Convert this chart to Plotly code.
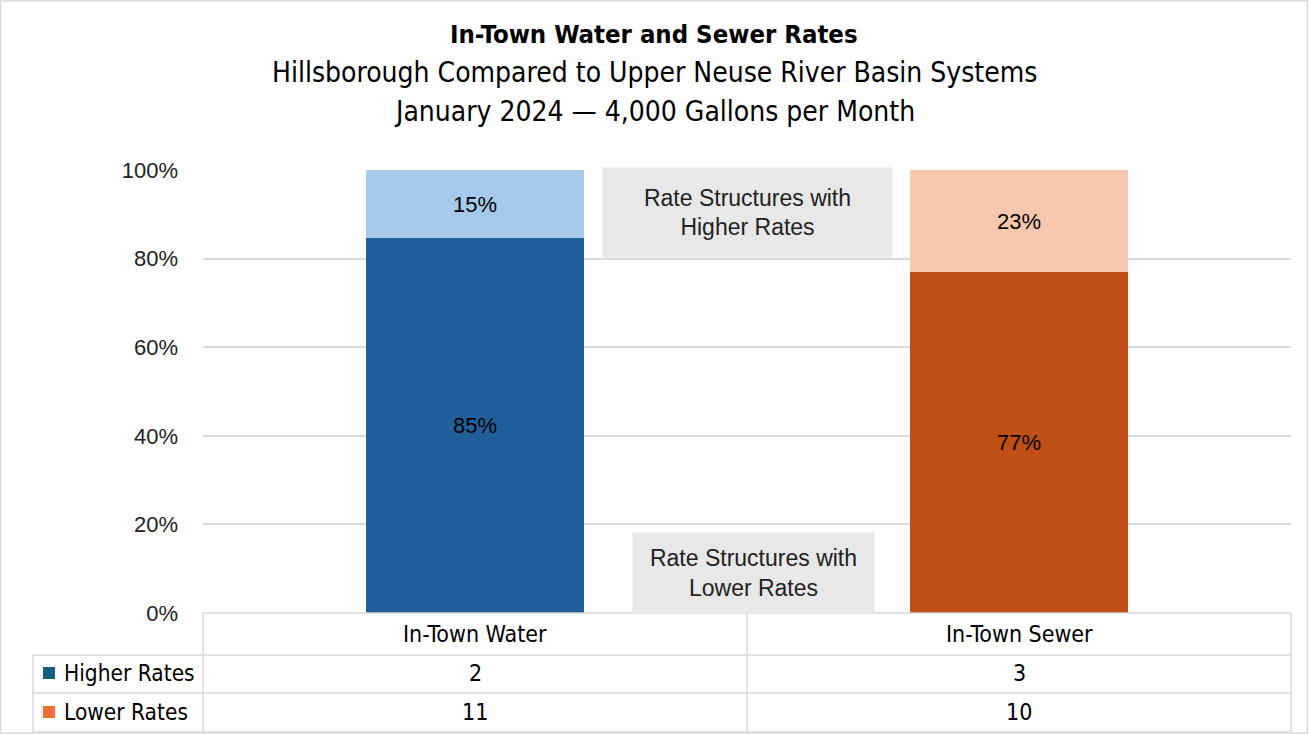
import plotly.graph_objects as go

categories = ["In-Town Water", "In-Town Sewer"]
lower_share = [0.846, 0.769]
higher_share = [0.154, 0.231]
lower_labels = ["85%", "77%"]
higher_labels = ["15%", "23%"]
higher_counts = [2, 3]
lower_counts = [11, 10]
y_ticks = [0, 0.2, 0.4, 0.6, 0.8, 1.0]
y_tick_labels = ["0%", "20%", "40%", "60%", "80%", "100%"]

W, H = 1309, 734
L, R, T, B = 203, 1291, 170, 613
NARROW = "Liberation Sans Narrow, Arial Narrow, DejaVu Sans Condensed, sans-serif"
ARIAL = "Liberation Sans, Arial, sans-serif"
GRID = "#D9D9D9"


def px(x):
    return (x - L) / (R - L)


def py(y):
    return (B - y) / (B - T)


fig = go.Figure()
fig.add_trace(go.Bar(
    x=categories, y=lower_share, name="Lower Rates",
    marker=dict(color=["#215F9A", "#C04F15"], line=dict(width=0)),
    text=lower_labels, textposition="inside", insidetextanchor="middle",
    textfont=dict(family=ARIAL, size=22, color="black"), width=0.4,
))
fig.add_trace(go.Bar(
    x=categories, y=higher_share, name="Higher Rates",
    marker=dict(color=["#A6CAEC", "#F6C6AD"], line=dict(width=0)),
    text=higher_labels, textposition="inside", insidetextanchor="middle",
    textfont=dict(family=ARIAL, size=22, color="black"), width=0.4,
))

shapes = []
annotations = []

# outer chart border
shapes.append(dict(type="rect", xref="paper", yref="paper", x0=px(0.5), x1=px(1307.5),
                   y0=py(733), y1=py(1), line=dict(color=GRID, width=1.5), layer="below"))

# titles
for text, yc, size in [("<b>In-Town Water and Sewer Rates</b>", 34, 25.5),
                       ("Hillsborough Compared to Upper Neuse River Basin Systems", 73, 28),
                       ("January 2024 \u2014 4,000 Gallons per Month", 111, 28)]:
    annotations.append(dict(text=text, xref="paper", yref="paper", x=px(654), y=py(yc),
                            xanchor="center", yanchor="middle", showarrow=False,
                            font=dict(family=NARROW, size=size, color="black")))

# gray callout boxes
annotations.append(dict(text="Rate Structures with<br>Higher Rates", xref="paper", yref="paper",
                        x=px(747.5), y=py(212.5), xanchor="center", yanchor="middle",
                        showarrow=False, width=289, height=89, bgcolor="#E8E8E8", borderpad=0,
                        font=dict(family=ARIAL, size=23, color="#222")))
annotations.append(dict(text="Rate Structures with<br>Lower Rates", xref="paper", yref="paper",
                        x=px(753.5), y=py(573), xanchor="center", yanchor="middle",
                        showarrow=False, width=241, height=80, bgcolor="#E8E8E8", borderpad=0,
                        font=dict(family=ARIAL, size=23, color="#222")))


# data table lines
def hline(x0, x1, y):
    shapes.append(dict(type="line", xref="paper", yref="paper", x0=px(x0), x1=px(x1),
                       y0=py(y), y1=py(y), line=dict(color=GRID, width=1.5)))


def vline(x, y0, y1):
    shapes.append(dict(type="line", xref="paper", yref="paper", x0=px(x), x1=px(x),
                       y0=py(y0), y1=py(y1), line=dict(color=GRID, width=1.5)))


hline(203, 1291, 613)
hline(33, 1291, 655)
hline(33, 1291, 693)
hline(33, 1291, 732)
vline(33, 655, 732)
vline(203, 613, 732)
vline(747, 613, 732)
vline(1291, 613, 732)

col_centers = [475, 1019]
for cat, cx in zip(categories, col_centers):
    annotations.append(dict(text=cat, xref="paper", yref="paper", x=px(cx), y=py(634),
                            xanchor="center", yanchor="middle", showarrow=False,
                            font=dict(family=NARROW, size=23, color="black")))
for vals, yc in [(higher_counts, 673), (lower_counts, 712)]:
    for v, cx in zip(vals, col_centers):
        annotations.append(dict(text=str(v), xref="paper", yref="paper", x=px(cx), y=py(yc),
                                xanchor="center", yanchor="middle", showarrow=False,
                                font=dict(family=NARROW, size=23, color="black")))

for name, color, yc in [("Higher Rates", "#156082", 673), ("Lower Rates", "#E97132", 712)]:
    shapes.append(dict(type="rect", xref="paper", yref="paper", x0=px(43), x1=px(55),
                       y0=py(yc + 6), y1=py(yc - 6), fillcolor=color, line=dict(width=0)))
    annotations.append(dict(text=name, xref="paper", yref="paper", x=px(62), y=py(yc),
                            xanchor="left", yanchor="middle", showarrow=False,
                            font=dict(family=NARROW, size=22.5, color="black")))

fig.update_layout(
    width=W, height=H, barmode="stack", showlegend=False,
    margin=dict(l=L, r=W - R, t=T, b=H - B),
    plot_bgcolor="white", paper_bgcolor="white",
    shapes=shapes, annotations=annotations,
    xaxis=dict(showticklabels=False, showgrid=False, zeroline=False, showline=False,
               range=[-0.5, 1.5], fixedrange=True),
    yaxis=dict(range=[0, 1], tickvals=y_ticks, ticktext=y_tick_labels, showgrid=True,
               gridcolor=GRID, gridwidth=1.5, zeroline=False, showline=False,
               tickfont=dict(family=ARIAL, size=22, color="#222"), ticks="",
               ticklabelstandoff=24, fixedrange=True),
    bargap=0.6,
)

fig.write_html("out.html", config={"displayModeBar": False},
               post_script="document.body.style.margin='0';")
